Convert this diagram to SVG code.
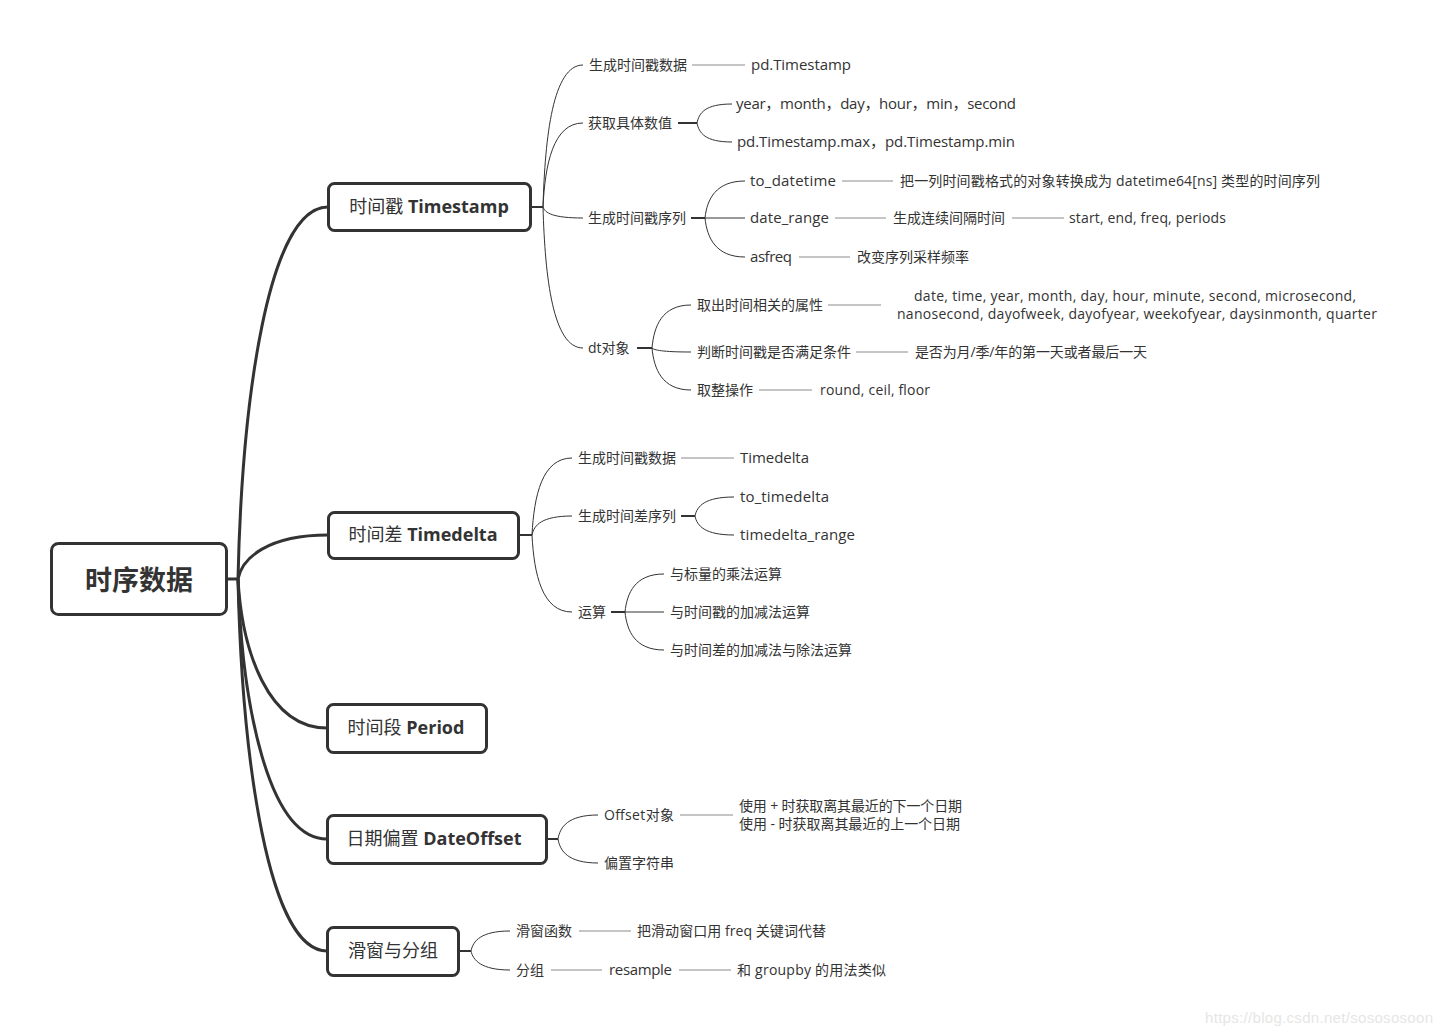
<svg xmlns="http://www.w3.org/2000/svg" width="1444" height="1035" viewBox="0 0 1444 1035">
<style>
text{font-family:"Open Sans","Noto Sans CJK SC",sans-serif;fill:#333;dominant-baseline:central}
.root{font-size:27px;font-weight:700;text-anchor:middle;font-family:"Noto Sans CJK SC",sans-serif}
.l1{font-size:18px;text-anchor:middle}
.l1 .b{font-weight:700}
.t{font-size:14px}
.lat{font-size:15px}
.box{fill:#fff;stroke:#333;stroke-width:3}
.main{fill:none;stroke:#333;stroke-width:3}
.stub{fill:none;stroke:#333;stroke-width:2}
.cur{fill:none;stroke:#333;stroke-width:1}
.leaf{fill:none;stroke:#8c8c8c;stroke-width:1.2}
.wm{font-family:"Liberation Sans",sans-serif;font-size:15px;fill:#e6e6e6}
</style>
<rect width="1444" height="1035" fill="#fff"/>
<g id="connectors">
<path class="main" d="M227 579H238"/>
<path class="main" d="M238 579C242 400 268 207 328 207"/>
<path class="main" d="M238 579C242 558 268 535 328 535"/>
<path class="main" d="M238 579C242 651 268 728 327 728"/>
<path class="main" d="M238 579C242 704 268 839 327 839"/>
<path class="main" d="M238 579C242 758 268 951 327 951"/>
<path class="stub" d="M531 207H543"/>
<path class="cur" d="M543 207C545 136 553 65 583 65"/>
<path class="cur" d="M543 207C545 165 553 123 583 123"/>
<path class="cur" d="M543 207C545 213 553 218 583 218"/>
<path class="cur" d="M543 207C545 278 553 348 583 348"/>
<path class="leaf" d="M692 65H745"/>
<path class="stub" d="M678 123H697"/>
<path class="cur" d="M697 123C699 113 705 104 732 104"/>
<path class="cur" d="M697 123C699 133 705 142 732 142"/>
<path class="stub" d="M691 218H705"/>
<path class="cur" d="M705 218C707 199 716 181 745 181"/>
<path class="cur" d="M705 218H745"/>
<path class="cur" d="M705 218C707 238 716 257 745 257"/>
<path class="leaf" d="M842 181H893"/>
<path class="leaf" d="M835 218H886"/>
<path class="leaf" d="M1012 218H1064"/>
<path class="leaf" d="M799 257H850"/>
<path class="stub" d="M637 348H652"/>
<path class="cur" d="M652 348C654 326 662 305 691 305"/>
<path class="cur" d="M652 348C654 350 662 352 691 352"/>
<path class="cur" d="M652 348C654 369 662 390 691 390"/>
<path class="leaf" d="M828 305H881"/>
<path class="leaf" d="M856 352H908"/>
<path class="leaf" d="M759 390H812"/>
<path class="stub" d="M519 535H532"/>
<path class="cur" d="M532 535C534 496 542 458 572 458"/>
<path class="cur" d="M532 535C534 525 542 516 572 516"/>
<path class="cur" d="M532 535C534 574 542 612 572 612"/>
<path class="leaf" d="M681 458H734"/>
<path class="stub" d="M681 516H695"/>
<path class="cur" d="M695 516C697 506 705 497 734 497"/>
<path class="cur" d="M695 516C697 526 705 535 734 535"/>
<path class="stub" d="M611 612H625"/>
<path class="cur" d="M625 612C627 593 635 574 664 574"/>
<path class="cur" d="M625 612H664"/>
<path class="cur" d="M625 612C627 631 635 650 664 650"/>
<path class="stub" d="M547 839H558"/>
<path class="cur" d="M558 839C560 827 568 815 598 815"/>
<path class="cur" d="M558 839C560 851 568 863 598 863"/>
<path class="leaf" d="M680 815H733"/>
<path class="stub" d="M459 951H471"/>
<path class="cur" d="M471 951C473 941 481 931 510 931"/>
<path class="cur" d="M471 951C473 960 481 970 510 970"/>
<path class="leaf" d="M579 931H631"/>
<path class="leaf" d="M551 970H602"/>
<path class="leaf" d="M679 970H731"/>
</g>
<g id="root">
<rect class="box" x="51.5" y="543.5" width="175" height="71" rx="7"/>
<text class="root" x="139" y="578">时序数据</text>
</g>
<g id="timestamp">
<rect class="box" x="328.5" y="183.5" width="202" height="47" rx="6"/>
<text class="l1" x="429" y="206">时间戳 <tspan class="b">Timestamp</tspan></text>
</g>
<g id="ts-children">
<text class="t" x="589" y="64">生成时间戳数据</text>
<text class="lat" x="751" y="64" textLength="100">pd.Timestamp</text>
<text class="t" x="588" y="122">获取具体数值</text>
<text class="lat" x="736" y="103" textLength="280">year，month，day，hour，min，second</text>
<text class="lat" x="737" y="141" textLength="278">pd.Timestamp.max，pd.Timestamp.min</text>
<text class="t" x="588" y="217">生成时间戳序列</text>
<text class="lat" x="750" y="180" textLength="86">to_datetime</text>
<text class="t" x="900" y="180" textLength="420">把一列时间戳格式的对象转换成为 datetime64[ns] 类型的时间序列</text>
<text class="lat" x="750" y="217" textLength="79">date_range</text>
<text class="t" x="893" y="217">生成连续间隔时间</text>
<text class="t" x="1069" y="217" textLength="157">start, end, freq, periods</text>
<text class="lat" x="750" y="256" textLength="42">asfreq</text>
<text class="t" x="857" y="256">改变序列采样频率</text>
<text class="t" x="588" y="347">dt对象</text>
<text class="t" x="697" y="304">取出时间相关的属性</text>
<text class="t" x="914" y="295" textLength="442">date, time, year, month, day, hour, minute, second, microsecond,</text>
<text class="t" x="897" y="313" textLength="480">nanosecond, dayofweek, dayofyear, weekofyear, daysinmonth, quarter</text>
<text class="t" x="697" y="351">判断时间戳是否满足条件</text>
<text class="t" x="915" y="351" textLength="232">是否为月/季/年的第一天或者最后一天</text>
<text class="t" x="697" y="389">取整操作</text>
<text class="t" x="820" y="389" textLength="110">round, ceil, floor</text>
</g>
<g id="timedelta">
<rect class="box" x="328.5" y="512.5" width="190" height="46" rx="6"/>
<text class="l1" x="423" y="534">时间差 <tspan class="b">Timedelta</tspan></text>
</g>
<g id="td-children">
<text class="t" x="578" y="457">生成时间戳数据</text>
<text class="lat" x="740" y="457" textLength="69">Timedelta</text>
<text class="t" x="578" y="515">生成时间差序列</text>
<text class="lat" x="740" y="496" textLength="89">to_timedelta</text>
<text class="lat" x="740" y="534" textLength="115">timedelta_range</text>
<text class="t" x="578" y="611">运算</text>
<text class="t" x="670" y="573">与标量的乘法运算</text>
<text class="t" x="670" y="611">与时间戳的加减法运算</text>
<text class="t" x="670" y="649">与时间差的加减法与除法运算</text>
</g>
<g id="period">
<rect class="box" x="327.5" y="704.5" width="159" height="48" rx="6"/>
<text class="l1" x="406" y="727">时间段 <tspan class="b">Period</tspan></text>
</g>
<g id="dateoffset">
<rect class="box" x="327.5" y="815.5" width="219" height="48" rx="6"/>
<text class="l1" x="434" y="838">日期偏置 <tspan class="b">DateOffset</tspan></text>
</g>
<g id="do-children">
<text class="t" x="604" y="814" textLength="70">Offset对象</text>
<text class="t" x="604" y="862">偏置字符串</text>
<text class="t" x="739" y="805" textLength="223">使用 + 时获取离其最近的下一个日期</text>
<text class="t" x="739" y="823" textLength="221">使用 - 时获取离其最近的上一个日期</text>
</g>
<g id="window">
<rect class="box" x="327.5" y="927.5" width="131" height="48" rx="6"/>
<text class="l1" x="393" y="950">滑窗与分组</text>
</g>
<g id="win-children">
<text class="t" x="516" y="930">滑窗函数</text>
<text class="t" x="637" y="930" textLength="189">把滑动窗口用 freq 关键词代替</text>
<text class="t" x="516" y="969">分组</text>
<text class="lat" x="609" y="969" textLength="63">resample</text>
<text class="t" x="737" y="969" textLength="149">和 groupby 的用法类似</text>
</g>
<text class="wm" x="1205" y="1017" textLength="228">https://blog.csdn.net/sosososoon</text>
</svg>
